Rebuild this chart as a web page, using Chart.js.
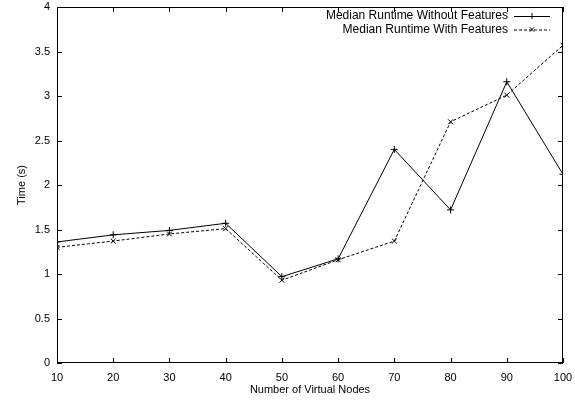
<!DOCTYPE html>
<html>
<head>
<meta charset="utf-8">
<script src="https://cdn.jsdelivr.net/npm/chart.js@4/dist/chart.umd.min.js"></script>
<style>
  html, body { margin: 0; padding: 0; background: #fff; }
</style>
</head>
<body>
<canvas id="grafik" width="575" height="402"></canvas>
<script>
// data
const nodes = [10, 20, 30, 40, 50, 60, 70, 80, 90, 100];
const tanpaFitur = [1.36, 1.44, 1.49, 1.57, 0.97, 1.17, 2.40, 1.72, 3.16, 2.12];
const denganFitur = [1.30, 1.37, 1.45, 1.51, 0.93, 1.16, 1.37, 2.71, 3.01, 3.57];
const labelSeri = ['Median Runtime Without Features', 'Median Runtime With Features'];
const yTicks = [0, 0.5, 1, 1.5, 2, 2.5, 3, 3.5, 4];
const xTicks = nodes;

const FONT = 'Liberation Sans, Arial, Helvetica, sans-serif';

function titik(arr) {
  return nodes.map((n, i) => ({ x: n, y: arr[i] }));
}

// kotak + tick ke dalam di keempat sisi (gaya gnuplot)
const bingkai = {
  id: 'bingkai',
  afterDatasetsDraw(chart) {
    const { ctx, chartArea: a, scales } = chart;
    ctx.save();
    ctx.strokeStyle = '#000';
    ctx.lineWidth = 1;
    ctx.strokeRect(a.left + 0.5, a.top + 0.5, a.right - a.left - 1, a.bottom - a.top - 1);
    ctx.beginPath();
    const len = 5;
    yTicks.forEach(v => {
      const y = Math.round(scales.y.getPixelForValue(v)) + 0.5;
      ctx.moveTo(a.left, y); ctx.lineTo(a.left + len, y);
      ctx.moveTo(a.right, y); ctx.lineTo(a.right - len, y);
    });
    xTicks.forEach(v => {
      const x = Math.round(scales.x.getPixelForValue(v)) + 0.5;
      ctx.moveTo(x, a.bottom); ctx.lineTo(x, a.bottom - len);
      ctx.moveTo(x, a.top); ctx.lineTo(x, a.top + len);
    });
    ctx.stroke();

    // legenda di kanan atas
    ctx.font = '12px ' + FONT;
    ctx.fillStyle = '#000';
    ctx.textAlign = 'right';
    ctx.textBaseline = 'middle';
    const xTeks = 508, x1 = 514, x2 = 550;
    chart.data.datasets.forEach((ds, i) => {
      const y = 16 + i * 13.5;
      ctx.fillText(ds.label, xTeks, y);
      ctx.beginPath();
      ctx.setLineDash(ds.borderDash || []);
      ctx.moveTo(x1, y + 0.5); ctx.lineTo(x2, y + 0.5);
      ctx.stroke();
      ctx.setLineDash([]);
      const cx = (x1 + x2) / 2, r = 3;
      ctx.beginPath();
      if (ds.pointStyle === 'cross') {
        ctx.moveTo(cx - r, y + 0.5); ctx.lineTo(cx + r, y + 0.5);
        ctx.moveTo(cx, y - r); ctx.lineTo(cx, y + r);
      } else {
        ctx.moveTo(cx - r * 0.75, y - r * 0.75); ctx.lineTo(cx + r * 0.75, y + r * 0.75);
        ctx.moveTo(cx - r * 0.75, y + r * 0.75); ctx.lineTo(cx + r * 0.75, y - r * 0.75);
      }
      ctx.stroke();
    });
    ctx.restore();
  }
};

const ctx = document.getElementById('grafik').getContext('2d');
new Chart(ctx, {
  type: 'line',
  data: {
    datasets: [{
      label: labelSeri[0],
      data: titik(tanpaFitur),
      borderColor: '#000',
      borderWidth: 1,
      pointStyle: 'cross',
      pointRadius: 3.5,
      pointBorderColor: '#000',
      pointBorderWidth: 1,
      fill: false,
      tension: 0
    }, {
      label: labelSeri[1],
      data: titik(denganFitur),
      borderColor: '#000',
      borderWidth: 1,
      borderDash: [3, 2],
      pointStyle: 'crossRot',
      pointRadius: 3.5,
      pointBorderColor: '#000',
      pointBorderWidth: 1,
      fill: false,
      tension: 0
    }]
  },
  options: {
    responsive: false,
    animation: false,
    layout: { padding: { left: 0, top: 7, right: 12, bottom: 0 } },
    plugins: {
      legend: { display: false },
      tooltip: { enabled: false }
    },
    scales: {
      x: {
        type: 'linear',
        min: 10,
        max: 100,
        afterBuildTicks: s => { s.ticks = xTicks.map(v => ({ value: v })); },
        afterFit: s => { s.height = 39; s.paddingLeft = 0; s.paddingRight = 0; },
        grid: { display: false, drawTicks: false },
        border: { display: false },
        ticks: {
          color: '#000', font: { family: FONT, size: 11 }, padding: 8,
          maxRotation: 0, autoSkip: false, callback: v => String(v)
        },
        title: {
          display: true,
          text: 'Number of Virtual Nodes',
          color: '#000',
          font: { family: FONT, size: 11 },
          padding: { top: 0, bottom: 5 }
        }
      },
      y: {
        min: 0,
        max: 4,
        afterBuildTicks: s => { s.ticks = yTicks.map(v => ({ value: v })); },
        afterFit: s => { s.width = 57; s.paddingTop = 0; s.paddingBottom = 0; },
        grid: { display: false, drawTicks: false },
        border: { display: false },
        ticks: {
          color: '#000', font: { family: FONT, size: 11 }, padding: 7,
          autoSkip: false, callback: v => String(v)
        },
        title: {
          display: true,
          text: 'Time (s)',
          color: '#000',
          font: { family: FONT, size: 11 },
          padding: { top: 15, bottom: 0 }
        }
      }
    }
  },
  plugins: [bingkai]
});
</script>
</body>
</html>
